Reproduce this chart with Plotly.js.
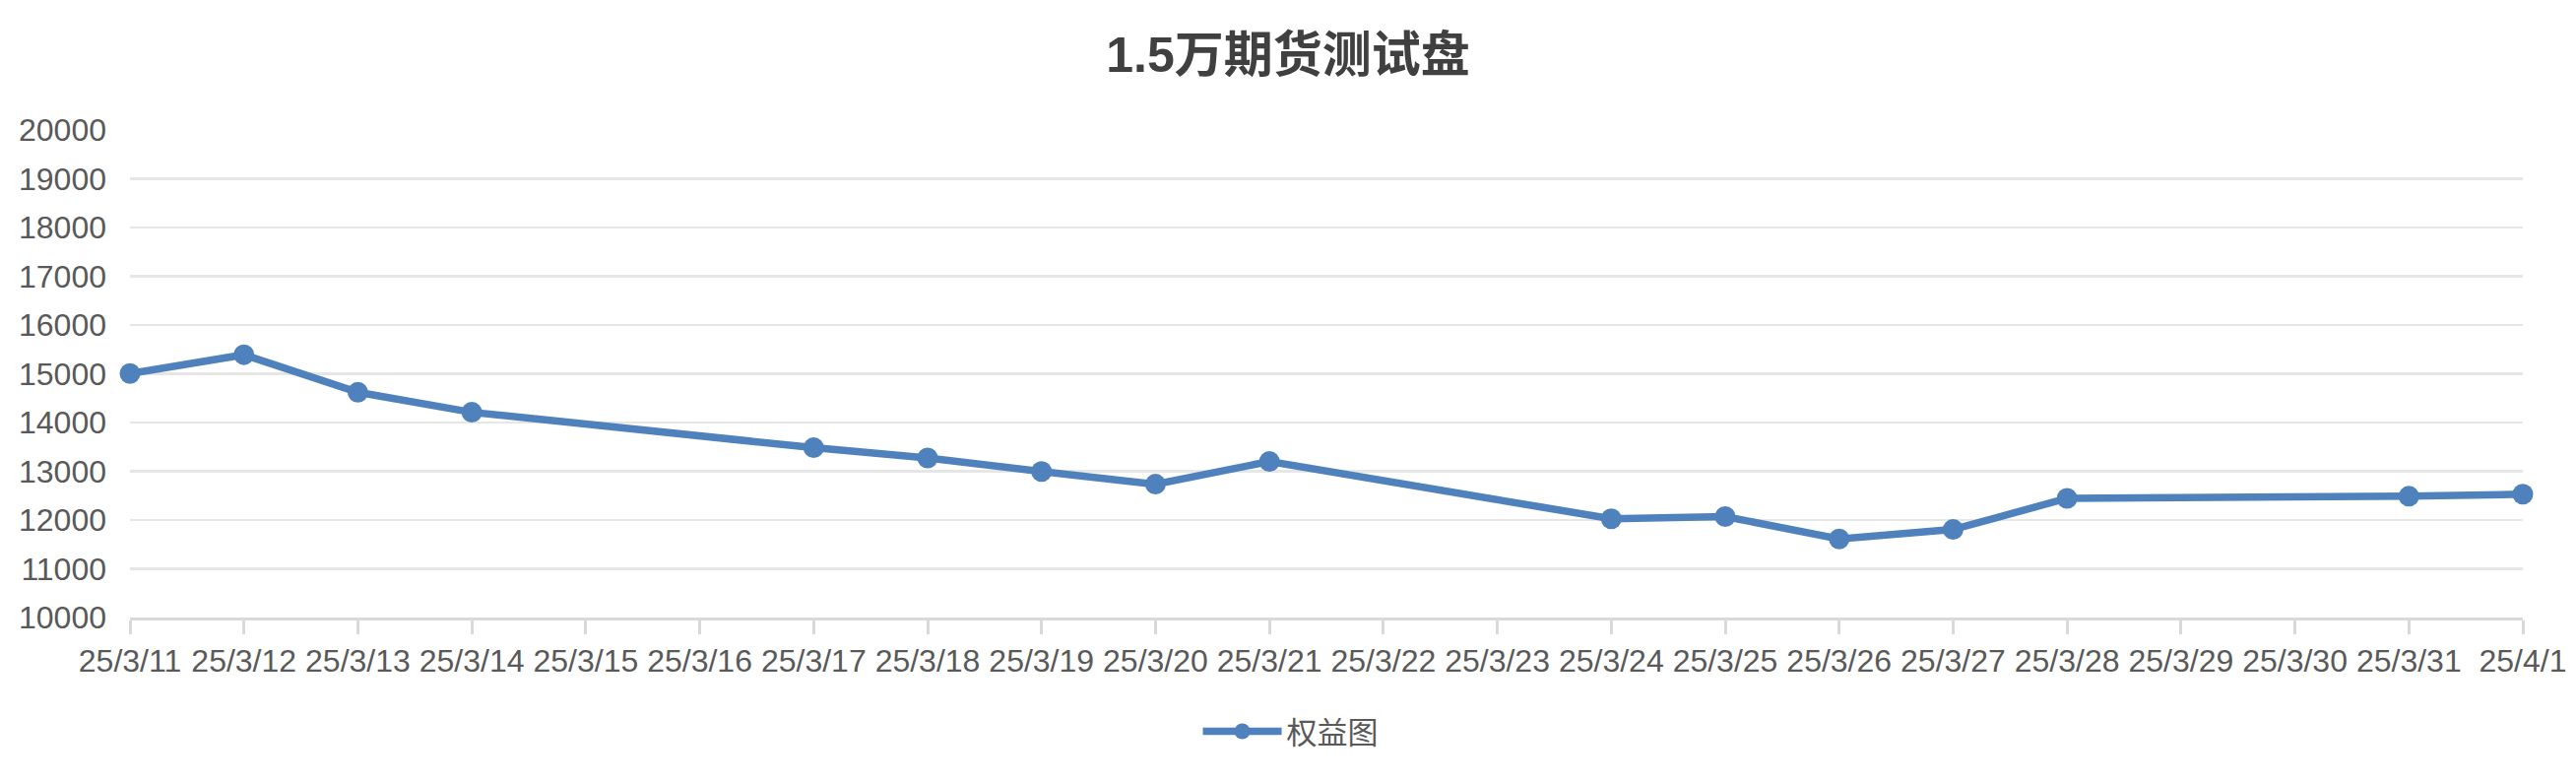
<!DOCTYPE html>
<html>
<head>
<meta charset="utf-8">
<script src="https://cdn.plot.ly/plotly-3.0.1.min.js"></script>
<style>
  html, body { margin: 0; padding: 0; background: #fff; }
  #chart { width: 2616px; height: 794px; }
</style>
</head>
<body>
<div id="chart"></div>
<script>
// Chart data
const dates = [
    '25/3/11', '25/3/12', '25/3/13', '25/3/14', '25/3/15', '25/3/16',
    '25/3/17', '25/3/18', '25/3/19', '25/3/20', '25/3/21', '25/3/22',
    '25/3/23', '25/3/24', '25/3/25', '25/3/26', '25/3/27', '25/3/28',
    '25/3/29', '25/3/30', '25/3/31', '25/4/1'
];
// null = no trading that day, the line just connects across
const equity = [
    15005, 15390, 14620, 14210, null, null,
    13483, 13272, 12995, 12735, 13200, null,
    null, 12025, 12070, 11612, 11806, 12445,
    null, null, 12488, 12530
];
const seriesName = '权益图';
const chartTitle = '1.5万期货测试盘';

const lineColor = '#4F81BD';
const textColor = '#595959';
const gridColor = '#E6E6E6';
const axisColor = '#D9D9D9';
const fontFamily = '"Liberation Sans", Arial, "Noto Sans CJK SC", sans-serif';

const trace = {
    x: dates,
    y: equity,
    type: 'scatter',
    mode: 'lines+markers',
    name: seriesName,
    connectgaps: true,
    cliponaxis: false,
    line: { color: lineColor, width: 7.5 },
    marker: { color: lineColor, size: 21 }
};

const layout = {
    width: 2616,
    height: 794,
    paper_bgcolor: '#fff',
    plot_bgcolor: '#fff',
    margin: { l: 132, r: 54, t: 132, b: 167 },
    font: { family: fontFamily, color: textColor, size: 32 },
    title: {
        text: '<b>' + chartTitle + '</b>',
        x: 0.5, xanchor: 'center',
        y: 0.93, yanchor: 'middle',
        font: { size: 50, color: '#404040' }
    },
    showlegend: true,
    legend: {
        orientation: 'h',
        x: 0.485, xanchor: 'center',
        y: -0.234, yanchor: 'middle',
        font: { size: 31, color: textColor },
        itemwidth: 80
    },
    xaxis: {
        type: 'category',
        range: [0, dates.length - 1],
        showgrid: false,
        zeroline: false,
        showline: true,
        linecolor: axisColor,
        linewidth: 3,
        ticks: 'outside',
        ticklen: 14,
        tickwidth: 3,
        tickcolor: axisColor,
        tickfont: { size: 32, color: textColor },
        tickangle: 0,
        fixedrange: true
    },
    // second axis only to draw the upper half of the crossing ticks
    xaxis2: {
        overlaying: 'x',
        anchor: 'y',
        side: 'bottom',
        type: 'linear',
        range: [0, dates.length - 1],
        dtick: 1,
        tick0: 0,
        showgrid: false,
        zeroline: false,
        showline: false,
        ticks: 'inside',
        ticklen: 12,
        tickwidth: 3,
        tickcolor: axisColor,
        showticklabels: false,
        fixedrange: true
    },
    yaxis: {
        range: [10000, 20000],
        dtick: 1000,
        tick0: 10000,
        tickformat: 'd',
        showgrid: true,
        gridcolor: gridColor,
        gridwidth: 2.5,
        zeroline: false,
        showline: false,
        ticks: '',
        ticklabelstandoff: 23,
        tickfont: { size: 32, color: textColor },
        fixedrange: true
    }
};

Plotly.newPlot('chart', [trace], layout, { displayModeBar: false, staticPlot: true });
</script>
</body>
</html>
